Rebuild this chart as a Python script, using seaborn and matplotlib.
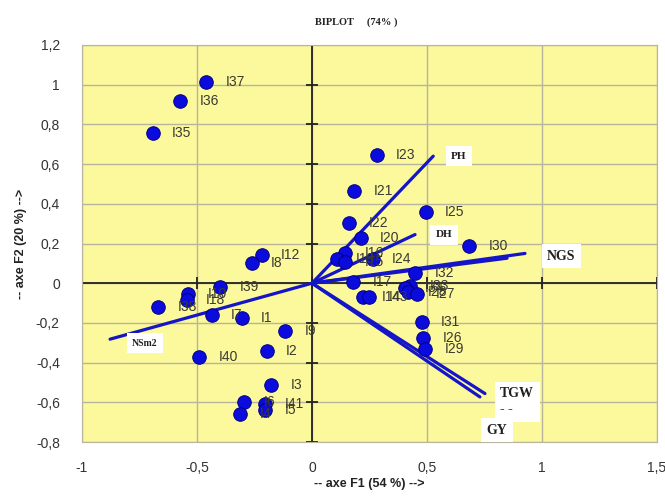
import numpy as np
import pandas as pd
import seaborn as sns
import matplotlib
matplotlib.use('Agg')
import matplotlib.pyplot as plt

# individuals (F1, F2)
ind_names = ['I37', 'I36', 'I35', 'I23', 'I21', 'I25', 'I22', 'I20', 'I30',
             'I16', 'I19', 'I15', 'I24', 'I32', 'I17', 'I14', 'I43',
             'I33', 'I34', 'I28', 'I27', 'I31', 'I26', 'I29',
             'I12', 'I8', 'I39', 'I10', 'I18', 'I38', 'I7', 'I1', 'I9',
             'I2', 'I40', 'I3', 'I6', 'I4', 'I41', 'I5']
ind_f1 = [-0.461, -0.574, -0.693, 0.281, 0.184, 0.494, 0.161, 0.211, 0.683,
          0.143, 0.107, 0.143, 0.264, 0.448, 0.180, 0.220, 0.249,
          0.426, 0.404, 0.419, 0.455, 0.477, 0.484, 0.491,
          -0.219, -0.262, -0.400, -0.538, -0.545, -0.668, -0.436, -0.306, -0.117,
          -0.197, -0.491, -0.178, -0.296, -0.313, -0.204, -0.204]
ind_f2 = [1.014, 0.918, 0.757, 0.645, 0.463, 0.359, 0.301, 0.229, 0.186,
          0.150, 0.124, 0.107, 0.121, 0.049, 0.007, -0.072, -0.069,
          -0.013, -0.025, -0.044, -0.052, -0.195, -0.274, -0.329,
          0.141, 0.102, -0.019, -0.052, -0.086, -0.119, -0.161, -0.175, -0.240,
          -0.341, -0.374, -0.514, -0.598, -0.661, -0.610, -0.640]

# variables (arrow tips)
var_names = ['PH', 'DH', 'NGS', '', 'NSm2', 'TGW\n- -', 'GY']
var_f1 = [0.527, 0.448, 0.926, 0.848, -0.878, 0.752, 0.730]
var_f2 = [0.640, 0.245, 0.150, 0.126, -0.282, -0.556, -0.573]

xticks = [-1, -0.5, 0, 0.5, 1, 1.5]
xtick_labels = ['-1', '-0,5', '0', '0,5', '1', '1,5']
yticks = [-0.8, -0.6, -0.4, -0.2, 0, 0.2, 0.4, 0.6, 0.8, 1, 1.2]
ytick_labels = ['-0,8', '-0,6', '-0,4', '-0,2', '0', '0,2', '0,4', '0,6', '0,8', '1', '1,2']

df = pd.DataFrame({'name': ind_names, 'F1': ind_f1, 'F2': ind_f2})

sns.set_style('white')
plt.rcParams['font.family'] = ['Liberation Sans', 'DejaVu Sans']

fig = plt.figure(figsize=(6.65, 5), dpi=100)
ax = fig.add_axes([0.1233, 0.116, 0.8647, 0.794])
ax.set_facecolor('#fcf89c')

ax.set_xlim(-1, 1.5)
ax.set_ylim(-0.8, 1.2)
ax.set_xticks(xticks)
ax.set_xticklabels(xtick_labels)
ax.set_yticks(yticks)
ax.set_yticklabels(ytick_labels)
ax.tick_params(length=0, labelsize=10, labelcolor='#333333')
ax.tick_params(axis='x', pad=14)
ax.tick_params(axis='y', pad=16)
ax.grid(True, color='#b8b4a0', linewidth=1)
for s in ax.spines.values():
    s.set_color('#b8b4a0')

# axes through zero with small ticks
ax.axhline(0, color='#222222', lw=1.3, zorder=2)
ax.axvline(0, color='#222222', lw=1.3, zorder=2)
ax.plot(xticks, [0] * len(xticks), ls='none', marker='|', ms=8, mew=1.3, color='#222222', zorder=2)
ax.plot([0] * len(yticks), yticks, ls='none', marker='_', ms=8, mew=1.3, color='#222222', zorder=2)

# variable vectors
for vx, vy in zip(var_f1, var_f2):
    ax.plot([0, vx], [0, vy], color='#1515c8', lw=2.3, zorder=3, solid_capstyle='round')

sns.scatterplot(data=df, x='F1', y='F2', ax=ax, s=95, color='#0b0bdd',
                edgecolor='#000080', linewidth=0.7, zorder=4, legend=False)

for n, x, y in zip(ind_names, ind_f1, ind_f2):
    ax.annotate(n, (x, y), xytext=(14, 0), textcoords='offset points',
                ha='left', va='center', fontsize=10, color='#3a3a30', zorder=5)

# variable labels in white boxes
var_offsets = {'PH': (13, 0), 'DH': (15, 0), 'NGS': (16, -2), 'NSm2': (16, -3),
               'TGW\n- -': (11, -6), 'GY': (5, -24)}
var_sizes = {'PH': 8, 'DH': 8, 'NGS': 10, 'NSm2': 7, 'TGW\n- -': 10, 'GY': 10}
for n, x, y in zip(var_names, var_f1, var_f2):
    if not n:
        continue
    ax.annotate(n, (x, y), xytext=var_offsets[n], textcoords='offset points',
                ha='left', va='center', fontsize=var_sizes[n], fontweight='bold',
                family='Liberation Serif', color='#202020', linespacing=1.3,
                bbox=dict(facecolor='white', edgecolor='none', pad=4), zorder=6)

ax.set_xlabel('-- axe F1 (54 %) -->', fontsize=9, fontweight='bold', color='#222222', labelpad=2)
ax.set_ylabel('-- axe F2 (20 %) -->', fontsize=9, fontweight='bold', color='#222222', labelpad=6)

fig.text(0.535, 0.955, 'BIPLOT     (74% )', ha='center', va='center', fontsize=7.5,
         fontweight='bold', family='Liberation Serif', color='#222222')

fig.savefig('out.png', dpi=100, facecolor='white')
